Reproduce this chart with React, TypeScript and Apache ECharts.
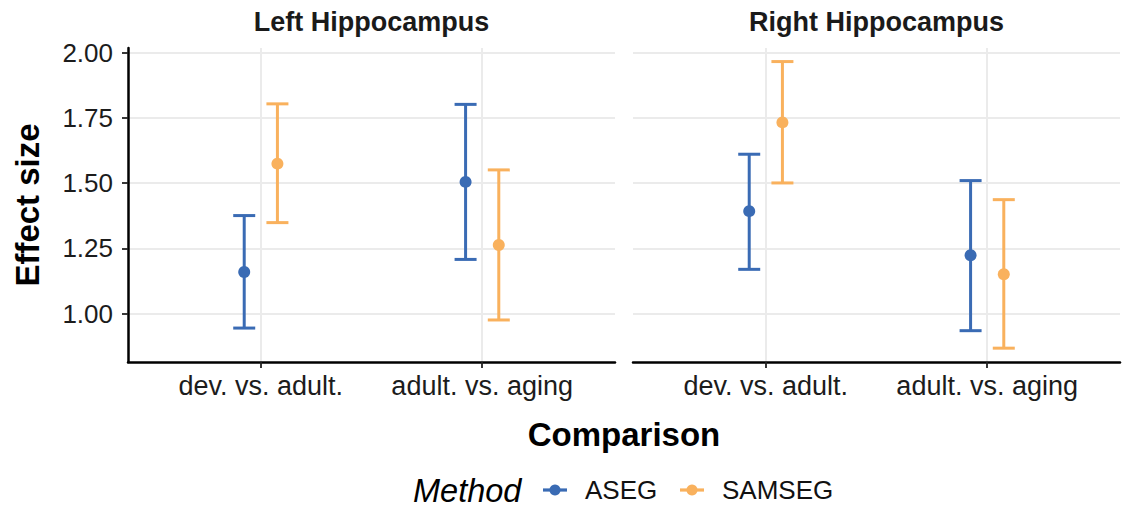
import React, { useEffect, useRef } from "react";
import * as echarts from "echarts";

// Facets, x categories and legend entries
const panels = ["Left Hippocampus", "Right Hippocampus"];
const comparisons = ["dev. vs. adult.", "adult. vs. aging"];
const methods = ["ASEG", "SAMSEG"];
const methodColors = ["#3a6bb4", "#f9b15d"];

// Effect size estimates with confidence limits, per comparison
const asegLeftMean = [1.16, 1.505];
const asegLeftLow = [0.945, 1.208];
const asegLeftHigh = [1.376, 1.802];

const samsegLeftMean = [1.575, 1.263];
const samsegLeftLow = [1.349, 0.976];
const samsegLeftHigh = [1.804, 1.551];

const asegRightMean = [1.393, 1.224];
const asegRightLow = [1.17, 0.935];
const asegRightHigh = [1.611, 1.51];

const samsegRightMean = [1.733, 1.151];
const samsegRightLow = [1.501, 0.868];
const samsegRightHigh = [1.966, 1.437];

const yTicks = [1.0, 1.25, 1.5, 1.75, 2.0];

const estimates = [
  [
    { mean: asegLeftMean, low: asegLeftLow, high: asegLeftHigh },
    { mean: samsegLeftMean, low: samsegLeftLow, high: samsegLeftHigh },
  ],
  [
    { mean: asegRightMean, low: asegRightLow, high: asegRightHigh },
    { mean: samsegRightMean, low: samsegRightLow, high: samsegRightHigh },
  ],
];

const FONT = "'Liberation Sans', Arial, Helvetica, sans-serif";
const GRID_COLOR = "#ebebeb";
const DODGE = 0.075;
const CAP_HALF = 11;

const panelLefts = [128, 633];
const panelWidth = 487;
const panelTop = 48;
const panelHeight = 314;

// legend row layout: key starts and label starts
const legendY = 490;
const legendKeyX = [543, 680];
const legendTextX = [585, 722];
const legendKeyWidth = 24;

function buildOption(): echarts.EChartsCoreOption {
  const grids = panelLefts.map((left) => ({
    left,
    top: panelTop,
    width: panelWidth,
    height: panelHeight,
    containLabel: false,
  }));

  const xAxes = panels.map((_, p) => ({
    type: "value",
    gridIndex: p,
    min: 0.4,
    max: 2.6,
    axisLine: { show: true, lineStyle: { color: "#000", width: 2.5 } },
    axisTick: {
      show: true,
      customValues: [1, 2],
      length: 6,
      lineStyle: { color: "#222", width: 1.8 },
    },
    axisLabel: {
      show: true,
      customValues: [1, 2],
      formatter: (v: number) => comparisons[Math.round(v) - 1] ?? "",
      fontFamily: FONT,
      fontSize: 27,
      color: "#1c1c1c",
      margin: 10,
    },
    splitLine: { show: true, lineStyle: { color: GRID_COLOR, width: 2 } },
  }));

  const yAxes = panels.map((_, p) => ({
    type: "value",
    gridIndex: p,
    min: 0.815,
    max: 2.018,
    axisLine: { show: p === 0, lineStyle: { color: "#000", width: 2.5 } },
    axisTick: {
      show: p === 0,
      customValues: yTicks,
      length: 6,
      lineStyle: { color: "#222", width: 1.8 },
    },
    axisLabel: {
      show: p === 0,
      customValues: yTicks,
      formatter: (v: number) => v.toFixed(2),
      fontFamily: FONT,
      fontSize: 26,
      color: "#1c1c1c",
      margin: 15,
    },
    splitLine: { show: true, lineStyle: { color: GRID_COLOR, width: 2 } },
  }));

  const series: any[] = [];
  panels.forEach((_, p) => {
    methods.forEach((name, m) => {
      const est = estimates[p][m];
      const color = methodColors[m];
      const offset = m === 0 ? -DODGE : DODGE;
      series.push({
        type: "custom",
        name,
        xAxisIndex: p,
        yAxisIndex: p,
        itemStyle: { color },
        encode: { x: 0, y: [1, 2] },
        data: comparisons.map((_, i) => [i + 1 + offset, est.low[i], est.high[i]]),
        z: 2,
        renderItem: (params: any, api: any) => {
          const x = api.value(0);
          const lo = api.coord([x, api.value(1)]);
          const hi = api.coord([x, api.value(2)]);
          const style = { stroke: color, lineWidth: 3, fill: "none" };
          return {
            type: "group",
            children: [
              { type: "line", shape: { x1: hi[0], y1: hi[1], x2: lo[0], y2: lo[1] }, style },
              {
                type: "line",
                shape: { x1: hi[0] - CAP_HALF, y1: hi[1], x2: hi[0] + CAP_HALF, y2: hi[1] },
                style,
              },
              {
                type: "line",
                shape: { x1: lo[0] - CAP_HALF, y1: lo[1], x2: lo[0] + CAP_HALF, y2: lo[1] },
                style,
              },
            ],
          };
        },
      });
      series.push({
        type: "scatter",
        name,
        xAxisIndex: p,
        yAxisIndex: p,
        symbol: "circle",
        symbolSize: 12,
        itemStyle: { color, opacity: 1 },
        data: comparisons.map((_, i) => [i + 1 + offset, est.mean[i]]),
        z: 3,
      });
    });
  });

  // legend keys: a short line through a dot, in the style of the point ranges
  const legendItems: any[] = [];
  methods.forEach((name, m) => {
    const color = methodColors[m];
    const x0 = legendKeyX[m];
    legendItems.push(
      {
        type: "line",
        shape: { x1: x0, y1: legendY, x2: x0 + legendKeyWidth, y2: legendY },
        style: { stroke: color, lineWidth: 3.2 },
      },
      {
        type: "circle",
        shape: { cx: x0 + legendKeyWidth / 2, cy: legendY, r: 5.5 },
        style: { fill: color },
      },
      {
        type: "text",
        x: legendTextX[m],
        y: legendY,
        style: {
          text: name,
          fontFamily: FONT,
          fontSize: 26,
          fill: "#111",
          textAlign: "left",
          textVerticalAlign: "middle",
        },
      }
    );
  });

  const graphic: any[] = [
    ...panels.map((text, p) => ({
      type: "text",
      x: panelLefts[p] + panelWidth / 2,
      y: 22,
      style: {
        text,
        fontFamily: FONT,
        fontSize: 27,
        fontWeight: "bold",
        fill: "#1a1a1a",
        textAlign: "center",
        textVerticalAlign: "middle",
      },
    })),
    {
      type: "text",
      x: 27,
      y: 205,
      rotation: Math.PI / 2,
      style: {
        text: "Effect size",
        fontFamily: FONT,
        fontSize: 33,
        fontWeight: "bold",
        fill: "#000",
        textAlign: "center",
        textVerticalAlign: "middle",
      },
    },
    {
      type: "text",
      x: 624,
      y: 434,
      style: {
        text: "Comparison",
        fontFamily: FONT,
        fontSize: 33,
        fontWeight: "bold",
        fill: "#000",
        textAlign: "center",
        textVerticalAlign: "middle",
      },
    },
    {
      type: "text",
      x: 413,
      y: 491,
      style: {
        text: "Method",
        fontFamily: FONT,
        fontSize: 32.5,
        fontStyle: "italic",
        fill: "#000",
        textAlign: "left",
        textVerticalAlign: "middle",
      },
    },
    ...legendItems,
  ];

  return {
    animation: false,
    backgroundColor: "#ffffff",
    grid: grids,
    xAxis: xAxes,
    yAxis: yAxes,
    graphic,
    series,
  };
}

export default function App() {
  const ref = useRef<HTMLDivElement>(null);

  useEffect(() => {
    if (!ref.current) return;
    const chart = echarts.init(ref.current, undefined, { renderer: "svg" });
    chart.setOption(buildOption());
    return () => chart.dispose();
  }, []);

  return (
    <div
      ref={ref}
      style={{ position: "fixed", left: 0, top: 0, width: 1122, height: 512, background: "#fff" }}
    />
  );
}
